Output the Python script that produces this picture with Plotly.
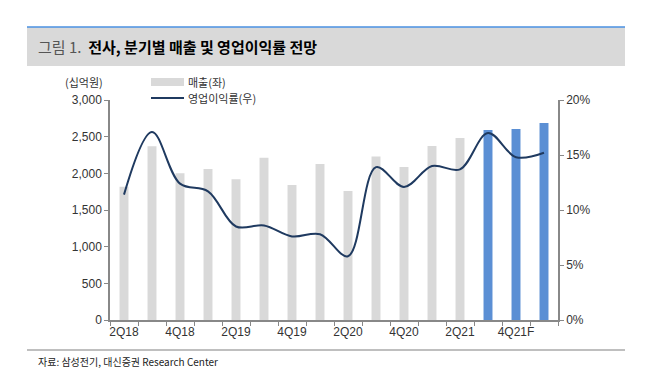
import plotly.graph_objects as go

categories = ["2Q18", "3Q18", "4Q18", "1Q19", "2Q19", "3Q19", "4Q19", "1Q20",
              "2Q20", "3Q20", "4Q20", "1Q21", "2Q21", "3Q21F", "4Q21F", "1Q22F"]
revenue = [1818, 2368, 2000, 2059, 1918, 2214, 1841, 2127,
           1759, 2228, 2086, 2373, 2482, 2591, 2605, 2686]
op_margin = [11.4, 17.1, 12.4, 11.7, 8.5, 8.6, 7.6, 7.8,
             5.8, 13.9, 12.1, 14.0, 13.7, 17.0, 14.8, 15.2]
forecast = [False] * 13 + [True] * 3
tick_labels = ["2Q18", "", "4Q18", "", "2Q19", "", "4Q19", "", "2Q20", "",
               "4Q20", "", "2Q21", "", "4Q21F", ""]

bar_colors = ["#5B8FD4" if f else "#D9D9D9" for f in forecast]

FONT = "Liberation Sans, Arial, Noto Sans CJK KR, sans-serif"
KFONT = "Noto Sans CJK KR, Liberation Sans, sans-serif"

W, H = 657, 377
OFF = 8  # browser default body margin
L, R, T, B = 110, 558, 100, 320


def px(x):
    return (x - L) / (R - L)


def py(y):
    return (B - y) / (B - T)


fig = go.Figure()
fig.add_trace(go.Bar(x=categories, y=revenue, marker_color=bar_colors,
                     marker_line_width=0, name="매출(좌)", showlegend=False))
fig.add_trace(go.Scatter(x=categories, y=op_margin, yaxis="y2", mode="lines",
                         line=dict(color="#1F3A60", width=2, shape="spline", smoothing=1.0),
                         name="영업이익률(우)", showlegend=False))

fig.update_layout(
    width=W, height=H,
    margin=dict(l=L - OFF, r=W - R + OFF, t=T - OFF, b=H - B + OFF, pad=0, autoexpand=False),
    paper_bgcolor="white", plot_bgcolor="white",
    bargap=0.68,
    font=dict(family=FONT, size=12, color="#333333"),
    xaxis=dict(type="category", tickvals=categories, ticktext=tick_labels, tickangle=0,
               automargin=False,
               tickson="boundaries", ticks="outside", ticklen=4, tickcolor="#888888",
               showline=True, linecolor="#888888", linewidth=1.5, showgrid=False,
               tickfont=dict(size=12, color="#333333")),
    yaxis=dict(range=[0, 3000], dtick=500, tickformat=",d", ticks="outside", ticklen=4,
               automargin=False,
               tickcolor="#888888", showline=True, linecolor="#888888", linewidth=1.5,
               showgrid=False, zeroline=False, tickfont=dict(size=12, color="#333333")),
    yaxis2=dict(range=[0, 20], dtick=5, ticksuffix="%", overlaying="y", side="right",
                automargin=False,
                ticks="outside", ticklen=4, tickcolor="#888888", showline=True,
                linecolor="#888888", linewidth=1.5, showgrid=False, zeroline=False,
                tickfont=dict(size=12, color="#333333")),
)

shapes = [
    # title band
    dict(type="rect", xref="paper", yref="paper", x0=px(27), x1=px(625), y0=py(66), y1=py(27),
         fillcolor="#D9D9D9", line_width=0, layer="below"),
    dict(type="line", xref="paper", yref="paper", x0=px(27), x1=px(625), y0=py(27), y1=py(27),
         line=dict(color="#4A90E2", width=1.5)),
    # footer line
    dict(type="line", xref="paper", yref="paper", x0=px(27), x1=px(625), y0=py(350), y1=py(350),
         line=dict(color="#808080", width=1.2)),
    # legend swatches
    dict(type="rect", xref="paper", yref="paper", x0=px(151), x1=px(184), y0=py(86), y1=py(78),
         fillcolor="#D9D9D9", line_width=0),
    dict(type="line", xref="paper", yref="paper", x0=px(151), x1=px(184), y0=py(98), y1=py(98),
         line=dict(color="#1F3A60", width=2)),
]

annotations = [
    dict(text="<span style='color:#555555'>그림 1.</span>  <b>전사, 분기별 매출 및 영업이익률 전망</b>",
         xref="paper", yref="paper", x=px(36), y=py(47), xanchor="left", yanchor="middle",
         showarrow=False, font=dict(family=KFONT, size=15, color="#000000")),
    dict(text="(십억원)", xref="paper", yref="paper", x=px(63), y=py(82),
         xanchor="left", yanchor="middle", showarrow=False,
         font=dict(family=KFONT, size=11, color="#333333")),
    dict(text="매출(좌)", xref="paper", yref="paper", x=px(186), y=py(82),
         xanchor="left", yanchor="middle", showarrow=False,
         font=dict(family=KFONT, size=11, color="#333333")),
    dict(text="영업이익률(우)", xref="paper", yref="paper", x=px(186), y=py(98),
         xanchor="left", yanchor="middle", showarrow=False,
         font=dict(family=KFONT, size=11, color="#333333")),
    dict(text="자료: 삼성전기, 대신증권 Research Center", xref="paper", yref="paper",
         x=px(36), y=py(361), xanchor="left", yanchor="middle", showarrow=False,
         font=dict(family=KFONT, size=10, color="#222222")),
]

fig.update_layout(shapes=shapes, annotations=annotations)
fig.write_html("out.html")
